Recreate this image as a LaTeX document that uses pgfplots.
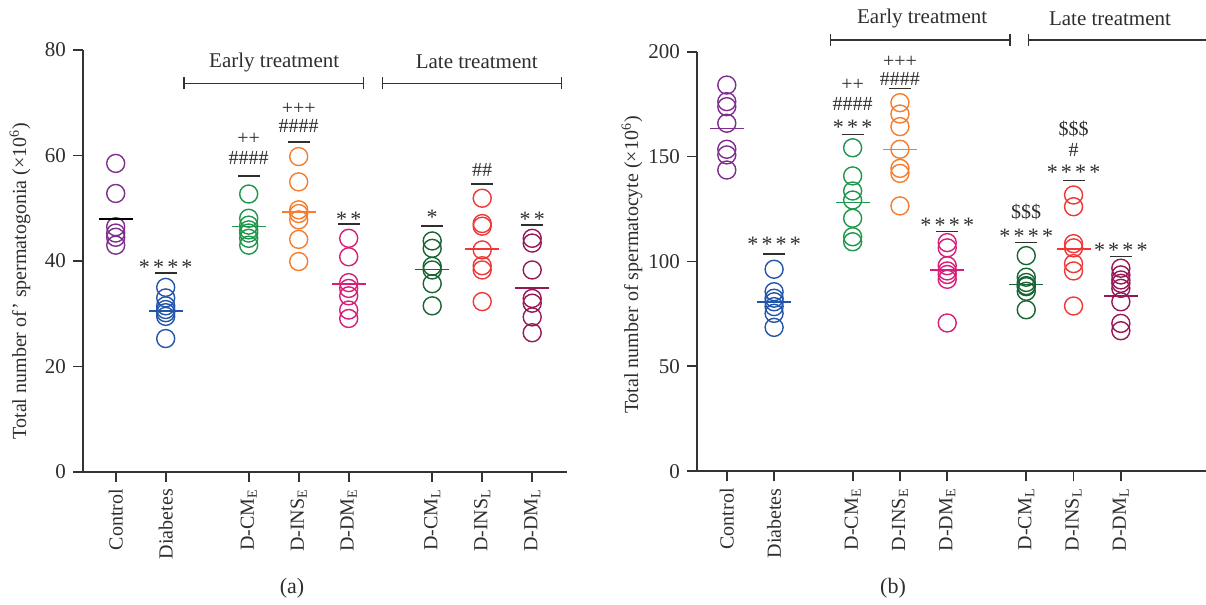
\documentclass[border=0pt]{standalone}
\usepackage{fontspec}
\setmainfont{Liberation Serif}
\usepackage{pgfplots}
\pgfplotsset{compat=1.18}
\usetikzlibrary{arrows.meta}

\definecolor{axisgray}{HTML}{333333}
\definecolor{txtgray}{HTML}{2E2E2E}
\definecolor{cpurple}{HTML}{7E2F8E}
\definecolor{cblue}{HTML}{2355AA}
\definecolor{cgreen}{HTML}{1E964B}
\definecolor{corange}{HTML}{F57D2D}
\definecolor{cpink}{HTML}{D71E78}
\definecolor{cdkgreen}{HTML}{196432}
\definecolor{cred}{HTML}{F03737}
\definecolor{cmaroon}{HTML}{961955}

% spaced asterisks
\newcommand{\stars}[1]{\foreach \i in {1,...,#1}{\ifnum\i>1\kern1.6pt\fi*}}

\pgfplotsset{
  spermaxis/.style={
    scale only axis, anchor=south west,
    axis x line*=bottom, axis y line*=left,
    axis line style={draw=axisgray, line width=0.9pt},
    tick style={draw=axisgray, line width=0.9pt},
    tick align=outside, major tick length=5pt,
    xtick={0,1,2.66,3.66,4.66,6.33,7.33,8.33},
    xticklabels={Control, Diabetes, D-CM\textsubscript{E}, D-INS\textsubscript{E}, D-DM\textsubscript{E},
                 D-CM\textsubscript{L}, D-INS\textsubscript{L}, D-DM\textsubscript{L}},
    xticklabel style={rotate=90, anchor=east, font=\fontsize{10}{12}\selectfont, text=txtgray},
    yticklabel style={font=\fontsize{10.5}{12}\selectfont, text=txtgray},
    /pgf/number format/assume math mode=true,
    clip=false, ymin=0,
  },
  pts/.style={only marks, mark=o, mark size=4.5pt, mark options={line width=0.7pt}, color=#1},
  mean/.style={only marks, mark=-, mark size=8.5pt, mark options={line width=0.75pt}, color=#1},
  sigbar/.style={only marks, mark=-, mark size=5.5pt, mark options={line width=0.75pt}, color=txtgray},
}
\tikzset{
  sig/.style={font=\fontsize{10}{12}\selectfont, text=txtgray, inner sep=0pt},
  ast/.style={font=\fontsize{11}{12}\selectfont, text=txtgray, inner sep=0pt, yshift=-2pt},
  brk/.style={draw=axisgray, line width=0.7pt, {Bar[width=6pt]}-{Bar[width=6pt]}},
  brkopen/.style={draw=axisgray, line width=0.7pt, {Bar[width=6pt]}-},
  grp/.style={font=\fontsize{10.5}{12}\selectfont, text=txtgray},
}

\begin{document}
\begin{tikzpicture}
%% ---------- (a) spermatogonia ----------
\begin{axis}[spermaxis, at={(41.5pt,66.5pt)}, width=242pt, height=211pt,
  xmin=-0.654, xmax=9.026, ymax=80, ytick={0,20,40,60,80}]
  \addplot[pts=cpurple]  coordinates {(0,58.5) (0,52.8) (0,46.5) (0,45.3) (0,44.5) (0,43.0)};
  \addplot[pts=cblue]    coordinates {(1,35.0) (1,33.0) (1,31.5) (1,30.8) (1,30.2) (1,29.5) (1,25.3)};
  \addplot[pts=cgreen]   coordinates {(2.66,52.7) (2.66,48.1) (2.66,46.8) (2.66,45.9) (2.66,45.3) (2.66,44.3) (2.66,43.0)};
  \addplot[pts=corange]  coordinates {(3.66,59.8) (3.66,55.0) (3.66,49.7) (3.66,49.0) (3.66,47.8) (3.66,44.1) (3.66,39.9)};
  \addplot[pts=cpink]    coordinates {(4.66,44.3) (4.66,40.8) (4.66,35.9) (4.66,34.8) (4.66,33.4) (4.66,30.7) (4.66,29.1)};
  \addplot[pts=cdkgreen] coordinates {(6.33,43.8) (6.33,42.4) (6.33,39.0) (6.33,38.3) (6.33,35.7) (6.33,31.5)};
  \addplot[pts=cred]     coordinates {(7.33,51.9) (7.33,47.1) (7.33,46.6) (7.33,42.1) (7.33,39.1) (7.33,38.3) (7.33,32.3)};
  \addplot[pts=cmaroon]  coordinates {(8.33,44.3) (8.33,43.4) (8.33,38.3) (8.33,32.9) (8.33,32.0) (8.33,29.4) (8.33,26.4)};
  % group means
  \addplot[mean=black]    coordinates {(0,48.0)};
  \addplot[mean=cblue]    coordinates {(1,30.5)};
  \addplot[mean=cgreen]   coordinates {(2.66,46.5)};
  \addplot[mean=corange]  coordinates {(3.66,49.3)};
  \addplot[mean=cpink]    coordinates {(4.66,35.6)};
  \addplot[mean=cdkgreen] coordinates {(6.33,38.4)};
  \addplot[mean=cred]     coordinates {(7.33,42.3)};
  \addplot[mean=cmaroon]  coordinates {(8.33,34.9)};
  % significance bars
  \addplot[sigbar] coordinates {(1,37.7) (2.66,56.1) (3.66,62.6) (4.66,47.0) (6.33,46.6) (7.33,54.6) (8.33,46.8)};
  \node[ast] at (axis cs:1,39.6) {\stars{4}};
  \node[sig] at (axis cs:2.66,59.5) {\#\#\#\#};
  \node[sig] at (axis cs:2.66,63.1) {++};
  \node[sig] at (axis cs:3.66,65.6) {\#\#\#\#};
  \node[sig] at (axis cs:3.66,68.9) {+++};
  \node[ast] at (axis cs:4.66,48.7) {\stars{2}};
  \node[ast] at (axis cs:6.33,49.0) {\stars{1}};
  \node[sig] at (axis cs:7.33,57.3) {\#\#};
  \node[ast] at (axis cs:8.33,48.7) {\stars{2}};
  % treatment groups
  \draw[brk] (axis cs:1.35,73.7) -- (axis cs:4.97,73.7);
  \draw[brk] (axis cs:5.32,73.7) -- (axis cs:8.93,73.7);
  \node[grp] at (axis cs:3.17,77.7) {Early treatment};
  \node[grp] at (axis cs:7.22,77.7) {Late treatment};
\end{axis}

%% ---------- (b) spermatocytes ----------
\begin{axis}[spermaxis, at={(348.5pt,66.85pt)}, width=254.5pt, height=209.8pt,
  xmin=-0.63, xmax=10.13, ymax=200, ytick={0,50,100,150,200}]
  \addplot[pts=cpurple]  coordinates {(0,184.1) (0,176.2) (0,173.8) (0,165.9) (0,153.5) (0,150.8) (0,143.6)};
  \addplot[pts=cblue]    coordinates {(1,96.3) (1,85.6) (1,82.5) (1,80.8) (1,78.5) (1,75.3) (1,68.6)};
  \addplot[pts=cgreen]   coordinates {(2.66,154.2) (2.66,140.8) (2.66,133.6) (2.66,129.3) (2.66,120.6) (2.66,111.8) (2.66,109.4)};
  \addplot[pts=corange]  coordinates {(3.66,175.7) (3.66,170.3) (3.66,164.3) (3.66,153.5) (3.66,144.4) (3.66,142.0) (3.66,126.5)};
  \addplot[pts=cpink]    coordinates {(4.66,109.0) (4.66,106.5) (4.66,98.0) (4.66,95.5) (4.66,93.8) (4.66,91.5) (4.66,70.7)};
  \addplot[pts=cdkgreen] coordinates {(6.33,102.8) (6.33,92.5) (6.33,90.0) (6.33,88.5) (6.33,88.0) (6.33,85.8) (6.33,77.0)};
  \addplot[pts=cred]     coordinates {(7.33,131.7) (7.33,126.1) (7.33,108.5) (7.33,106.5) (7.33,99.0) (7.33,95.5) (7.33,78.8)};
  \addplot[pts=cmaroon]  coordinates {(8.33,96.8) (8.33,93.6) (8.33,91.2) (8.33,89.6) (8.33,87.2) (8.33,80.8) (8.33,70.5) (8.33,67.0)};
  % group means
  \addplot[mean=cpurple]  coordinates {(0,163.5)};
  \addplot[mean=cblue]    coordinates {(1,80.8)};
  \addplot[mean=cgreen]   coordinates {(2.66,128.2)};
  \addplot[mean=corange]  coordinates {(3.66,153.5)};
  \addplot[mean=cpink]    coordinates {(4.66,95.9)};
  \addplot[mean=cdkgreen] coordinates {(6.33,89.1)};
  \addplot[mean=cred]     coordinates {(7.33,106.0)};
  \addplot[mean=cmaroon]  coordinates {(8.33,83.6)};
  % significance bars
  \addplot[sigbar] coordinates {(1,103.6) (2.66,160.6) (3.66,182.4) (4.66,114.2) (6.33,109.0) (7.33,138.5) (8.33,102.3)};
  \node[ast] at (axis cs:1,109.9) {\stars{4}};
  \node[ast] at (axis cs:2.66,165.9) {\stars{3}};
  \node[sig] at (axis cs:2.66,174.9) {\#\#\#\#};
  \node[sig] at (axis cs:2.66,184.1) {++};
  \node[sig] at (axis cs:3.66,187.0) {\#\#\#\#};
  \node[sig] at (axis cs:3.66,195.2) {+++};
  \node[ast] at (axis cs:4.66,119.0) {\stars{4}};
  \node[ast] at (axis cs:6.33,113.7) {\stars{4}};
  \node[sig] at (axis cs:6.33,123.7) {\$\$\$};
  \node[ast] at (axis cs:7.33,144.4) {\stars{4}};
  \node[sig] at (axis cs:7.33,153.1) {\#};
  \node[sig] at (axis cs:7.33,163.0) {\$\$\$};
  \node[ast] at (axis cs:8.33,107.1) {\stars{4}};
  % treatment groups
  \draw[brk] (axis cs:2.18,205.6) -- (axis cs:6.0,205.6);
  \draw[brkopen] (axis cs:6.36,205.6) -- (axis cs:10.13,205.6);
  \node[grp] at (axis cs:4.13,215.6) {Early treatment};
  \node[grp] at (axis cs:8.10,215.6) {Late treatment};
\end{axis}

% axis titles and panel letters
\node[rotate=90, font=\fontsize{10}{12}\selectfont, text=txtgray] at (10pt,162pt)
  {Total number of' spermatogonia (×10\textsuperscript{6})};
\node[rotate=90, font=\fontsize{10}{12}\selectfont, text=txtgray] at (316pt,170pt)
  {Total number of spermatocyte (×10\textsuperscript{6})};
\node[font=\fontsize{11}{13}\selectfont, text=txtgray] at (146pt,8.5pt) {(a)};
\node[font=\fontsize{11}{13}\selectfont, text=txtgray] at (446.5pt,8.5pt) {(b)};

\pgfresetboundingbox
\useasboundingbox (0,0) rectangle (603pt,302.5pt);
\end{tikzpicture}
\end{document}
